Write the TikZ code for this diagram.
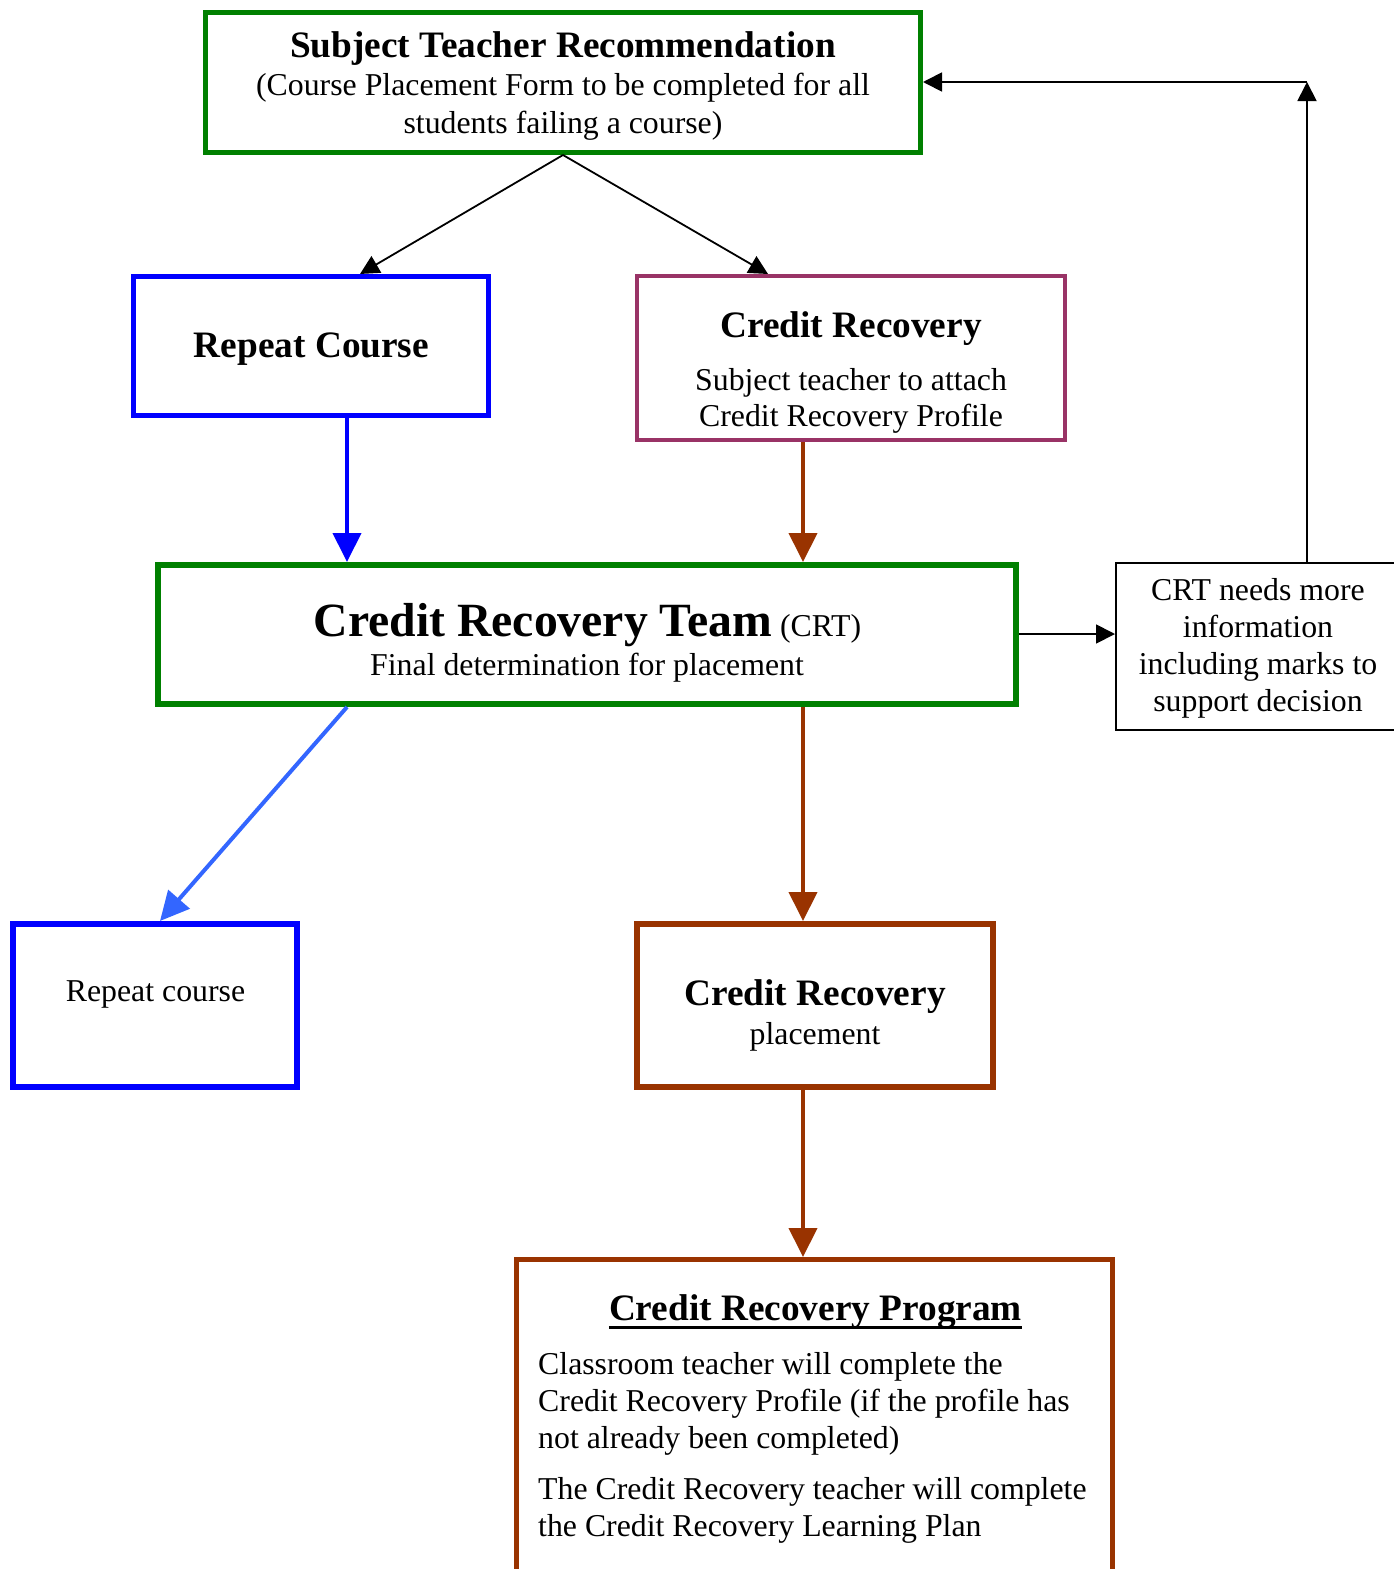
\documentclass[tikz,border=0pt]{standalone}
\usepackage{fontspec}
\setmainfont{Liberation Serif}
\usetikzlibrary{arrows.meta}
\definecolor{cgreen}{RGB}{0,128,0}
\definecolor{cblue}{RGB}{0,0,255}
\definecolor{cpurple}{RGB}{153,51,102}
\definecolor{cbrown}{RGB}{153,51,0}
\definecolor{clblue}{RGB}{51,102,255}
\newcommand{\bodyfnt}{\fontsize{31.8}{38}\selectfont}
\newcommand{\headfnt}{\fontsize{37.3}{44}\selectfont\bfseries}
\newcommand{\bigheadfnt}{\fontsize{47.7}{56}\selectfont\bfseries}
\begin{document}
\begin{tikzpicture}[x=1pt,y=-1pt,
  box/.style={draw, rectangle, inner sep=0pt, anchor=north west},
  txt/.style={inner sep=0pt, anchor=base},
  ltxt/.style={inner sep=0pt, anchor=base west},
  thinarrow/.style={draw=black, line width=1.8pt, -{Triangle[length=19pt,width=19pt]}},
  thickarrow/.style={line width=4pt, -{Triangle[length=29pt,width=28pt]}}
]
\useasboundingbox (0,0) rectangle (1393,1569);
% boxes (positioned by their outer corner)
\node[box, draw=cgreen, line width=5pt, minimum width=715pt, minimum height=140pt] (top) at (203,10) {};
\node[box, draw=cblue, line width=5pt, minimum width=355pt, minimum height=139pt] (repeat) at (131,274) {};
\node[box, draw=cpurple, line width=4pt, minimum width=428pt, minimum height=164pt] (cr) at (635,274) {};
\node[box, draw=cgreen, line width=6pt, minimum width=858pt, minimum height=139pt] (crt) at (155,562) {};
\node[box, draw=black, line width=1.6pt, minimum width=300pt, minimum height=167pt] (needs) at (1115,562) {};
\node[box, draw=cblue, line width=6pt, minimum width=284pt, minimum height=163pt] (rc) at (10,921) {};
\node[box, draw=cbrown, line width=6pt, minimum width=356pt, minimum height=163pt] (place) at (634,921) {};
\node[box, draw=cbrown, line width=5pt, minimum width=596pt, minimum height=340pt] (prog) at (514,1257) {};
% texts
\node[txt] (topT1) at (563,57.5) {\headfnt Subject Teacher Recommendation};
\node[txt] (topT2) at (563,95.5) {\bodyfnt (Course Placement Form to be completed for all};
\node[txt] (topT3) at (563,133) {\bodyfnt students failing a course)};
\node[txt] (repT) at (311.5,357) {\headfnt Repeat Course};
\node[txt] (crT1) at (851,337) {\headfnt Credit Recovery};
\node[txt] (crT2) at (851,390.5) {\bodyfnt Subject teacher to attach};
\node[txt] (crT3) at (851,426.5) {\bodyfnt Credit Recovery Profile};
\node[txt] (crtT1) at (587.5,636) {\bigheadfnt Credit Recovery Team\,\bodyfnt\mdseries (CRT)};
\node[txt] (crtT2) at (587,675.5) {\bodyfnt Final determination for placement};
\node[txt] (needT1) at (1258,600.5) {\bodyfnt CRT needs more};
\node[txt] (needT2) at (1258,637.5) {\bodyfnt information};
\node[txt] (needT3) at (1258,674.5) {\bodyfnt including marks to};
\node[txt] (needT4) at (1258,711.5) {\bodyfnt support decision};
\node[txt] (rcT) at (155.5,1001) {\bodyfnt Repeat course};
\node[txt] (placeT1) at (815,1005) {\headfnt Credit Recovery};
\node[txt] (placeT2) at (815,1044) {\bodyfnt placement};
\node[txt] (progT) at (815.5,1320) {\headfnt Credit Recovery Program};
\draw[line width=2.6pt] ([yshift=-7.5pt]progT.base west) -- ([yshift=-7.5pt]progT.base east);
\node[ltxt] (progB1) at (538,1374.5) {\bodyfnt Classroom teacher will complete the};
\node[ltxt] (progB2) at (538,1411) {\bodyfnt Credit Recovery Profile (if the profile has};
\node[ltxt] (progB3) at (538,1448) {\bodyfnt not already been completed)};
\node[ltxt] (progB4) at (538,1499.5) {\bodyfnt The Credit Recovery teacher will complete};
\node[ltxt] (progB5) at (538,1536.5) {\bodyfnt the Credit Recovery Learning Plan};
% connectors
\coordinate (corner) at (1307,82);
\draw[thinarrow] (top.south) -- (repeat.north -| 360,0);
\draw[thinarrow] (top.south) -- (cr.north -| 768,0);
\draw[thickarrow, draw=cblue, fill=cblue] (repeat.south -| 347,0) -- (crt.north -| 347,0);
\draw[thickarrow, draw=cbrown, fill=cbrown] (cr.south -| 803,0) -- (crt.north -| 803,0);
\draw[thinarrow] (crt.east |- 0,634) -- (needs.west |- 0,634);
\draw[thinarrow] (needs.north -| corner) -- (corner);
\draw[thinarrow] (corner) -- (top.east |- corner);
\draw[thickarrow, draw=clblue, fill=clblue] (crt.south -| 347,0) -- (rc.north -| 160,0);
\draw[thickarrow, draw=cbrown, fill=cbrown] (crt.south -| 803,0) -- (place.north -| 803,0);
\draw[thickarrow, draw=cbrown, fill=cbrown] (place.south -| 803,0) -- (prog.north -| 803,0);
\end{tikzpicture}
\end{document}
